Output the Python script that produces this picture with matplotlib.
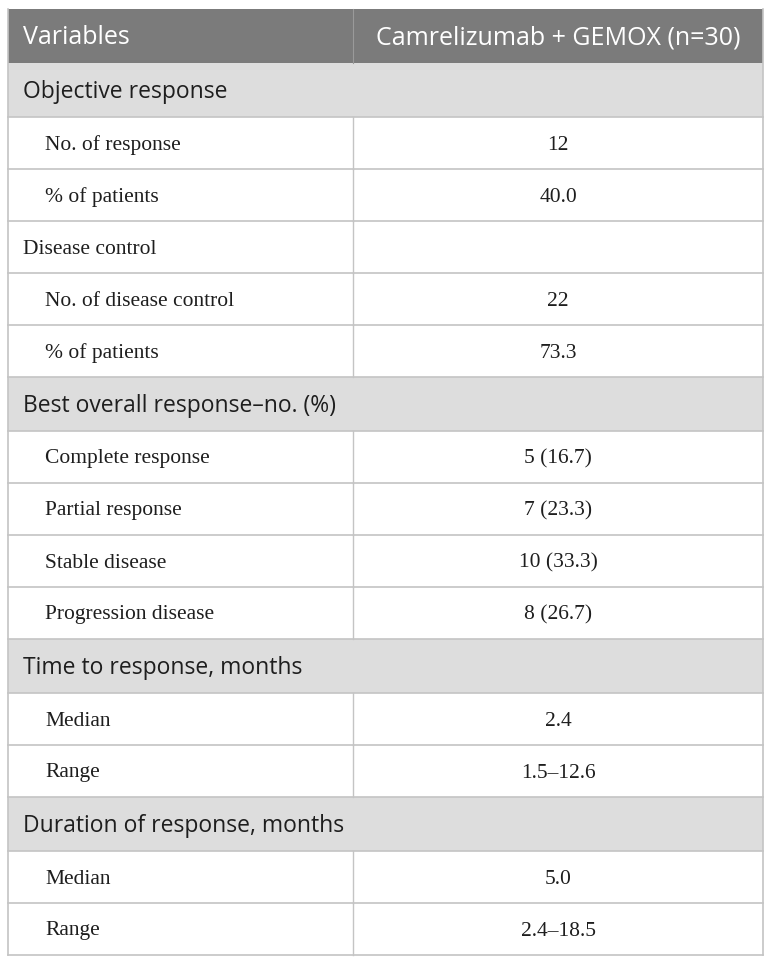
import matplotlib
matplotlib.use("Agg")
import matplotlib.pyplot as plt
from matplotlib.patches import Rectangle

# table content
header = ["Variables", "Camrelizumab + GEMOX (n=30)"]
labels = ["Objective response", "No. of response", "% of patients",
          "Disease control", "No. of disease control", "% of patients",
          "Best overall response\u2013no. (%)", "Complete response", "Partial response",
          "Stable disease", "Progression disease",
          "Time to response, months", "Median", "Range",
          "Duration of response, months", "Median", "Range"]
values = ["", "12", "40.0", "", "22", "73.3", "", "5 (16.7)", "7 (23.3)",
          "10 (33.3)", "8 (26.7)", "", "2.4", "1.5\u201312.6", "", "5.0", "2.4\u201318.5"]
# row kinds: s = grey section row, p = plain row, i = indented row
kinds = ["s", "i", "i", "p", "i", "i", "s", "i", "i", "i", "i",
         "s", "i", "i", "s", "i", "i"]

W, H = 772, 964
fig = plt.figure(figsize=(W / 100, H / 100), dpi=100)
ax = fig.add_axes([0, 0, 1, 1])
ax.set_xlim(0, W)
ax.set_ylim(H, 0)
ax.axis("off")

left, right, split = 8, 763, 353
top = 9
head_h, sec_h, row_h = 54, 54, 52
line_c = "#c4c4c4"
sans = ["Open Sans", "DejaVu Sans"]
serif = ["Liberation Serif", "DejaVu Serif"]
body_fs = 15.5
dy = 2  # nudge text a little down so caps sit centred

# header
ax.add_patch(Rectangle((left, top), right - left, head_h, facecolor="#7b7b7b", edgecolor="none"))
ax.plot([split, split], [top, top + head_h], color="#9a9a9a", lw=0.8)
ax.text(left + 15, top + head_h / 2 + dy, header[0], color="white", fontsize=18,
        family=sans, va="center", ha="left")
ax.text((split + right) / 2, top + head_h / 2 + dy, header[1], color="white", fontsize=18,
        family=sans, va="center", ha="center")

y = top + head_h
for lab, val, k in zip(labels, values, kinds):
    h = sec_h if k == "s" else row_h
    if k == "s":
        ax.add_patch(Rectangle((left, y), right - left, h, facecolor="#dddddd", edgecolor="none"))
        ax.text(left + 15, y + h / 2 + dy, lab, color="#1e1e1e", fontsize=16.5, family=sans,
                va="center", ha="left")
    else:
        ax.plot([split, split], [y, y + h], color=line_c, lw=1.0)
        x0 = left + 37 if k == "i" else left + 15
        ax.text(x0, y + h / 2 + dy, lab, color="#1e1e1e", fontsize=body_fs, family=serif,
                va="center", ha="left")
        ax.text((split + right) / 2, y + h / 2 + dy, val, color="#1e1e1e", fontsize=body_fs,
                family=serif, va="center", ha="center")
    y += h
    ax.plot([left, right], [y, y], color=line_c, lw=1.2)

# outer border
ax.plot([left, left], [top, y], color=line_c, lw=1.2)
ax.plot([right, right], [top, y], color=line_c, lw=1.2)

fig.savefig("out.png", dpi=100, facecolor="white")
